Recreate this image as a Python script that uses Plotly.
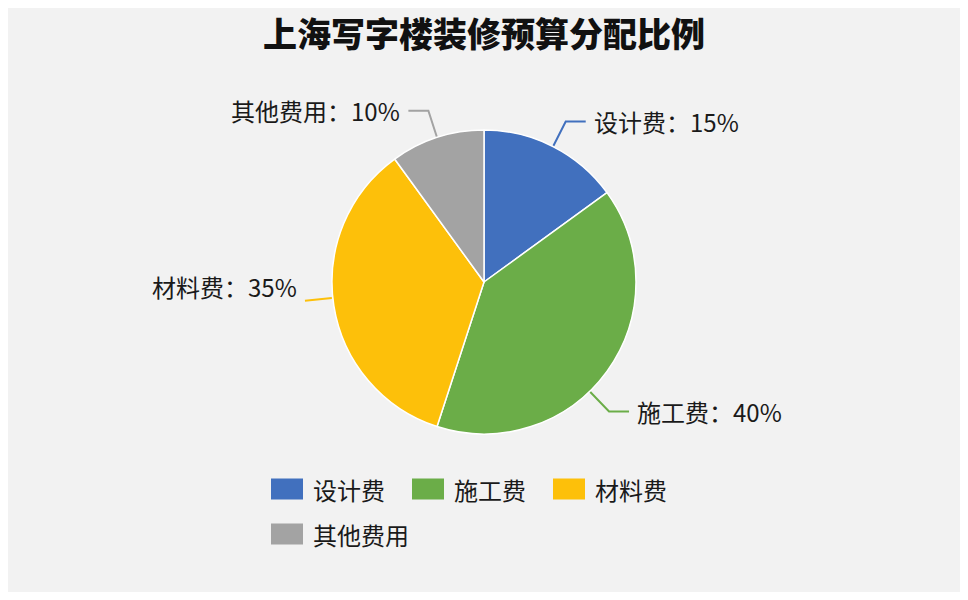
import math
import plotly.graph_objects as go

# 数据
categories = ["设计费", "施工费", "材料费", "其他费用"]
shares = [15, 40, 35, 10]
colors = ["#4170BE", "#6BAD48", "#FDC00A", "#A3A3A3"]
chart_title = "上海写字楼装修预算分配比例"

# 页面有 8px 的 body 边距，图本身略小一点
OFF = 8
W, H = 952, 584
cx, cy, r = 484, 282, 152
font = "Noto Sans CJK SC, Microsoft YaHei, sans-serif"

# 标签微调：引导线角度偏移(度)、文字上下偏移(px)
angle_tweak = {"施工费": 10, "材料费": 3}
text_dy = {"材料费": -14}


def to_paper(x, y):
    # 屏幕像素 -> paper 坐标
    return (x - OFF) / W, 1 - (y - OFF) / H


dx0, dy0 = to_paper(cx - r, cy + r)
dx1, dy1 = to_paper(cx + r, cy - r)

fig = go.Figure(go.Pie(
    labels=categories,
    values=shares,
    sort=False,
    direction="clockwise",
    rotation=0,
    marker=dict(colors=colors, line=dict(color="white", width=1.5)),
    textinfo="none",
    hoverinfo="label+percent",
    showlegend=False,
    domain=dict(x=[dx0, dx1], y=[dy0, dy1]),
))

shapes, annotations = [], []

# 引导线 + 数据标签
total = sum(shares)
acc = 0
for name, v, c in zip(categories, shares, colors):
    mid = (acc + v / 2) / total * 2 * math.pi + math.radians(angle_tweak.get(name, 0))
    acc += v
    dx, dy = math.sin(mid), -math.cos(mid)
    p1 = to_paper(cx + (r + 1) * dx, cy + (r + 1) * dy)
    x2, y2 = cx + (r + 28) * dx, cy + (r + 28) * dy
    side = 1 if dx > 0 else -1
    x3 = x2 + side * (20 if abs(dy) > 0.3 else 0)
    p2 = to_paper(x2, y2)
    p3 = to_paper(x3, y2)
    shapes.append(dict(
        type="path", xref="paper", yref="paper",
        path=f"M {p1[0]},{p1[1]} L {p2[0]},{p2[1]} L {p3[0]},{p3[1]}",
        line=dict(color=c, width=2),
    ))
    tx, ty = to_paper(x3 + side * 6, y2 + text_dy.get(name, 0))
    annotations.append(dict(
        x=tx, y=ty, xref="paper", yref="paper",
        text=f"{name}：{v}%", showarrow=False,
        xanchor="left" if side > 0 else "right", yanchor="middle",
        font=dict(size=24, color="#1a1a1a", family=font),
    ))

# 图例（手动绘制）
for i, (name, c) in enumerate(zip(categories, colors)):
    row, col = divmod(i, 3)
    bx = 271 + col * 141
    by = 489 + row * 45
    x0, y0 = to_paper(bx, by - 10.5)
    x1, y1 = to_paper(bx + 32, by + 10.5)
    shapes.append(dict(type="rect", xref="paper", yref="paper",
                       x0=x0, x1=x1, y0=y1, y1=y0,
                       fillcolor=c, line=dict(width=0)))
    tx, ty = to_paper(bx + 40, by)
    annotations.append(dict(
        x=tx, y=ty, xref="paper", yref="paper",
        text=name, showarrow=False, xanchor="left", yanchor="middle",
        font=dict(size=24, color="#1a1a1a", family=font),
    ))

fig.update_layout(
    width=W, height=H,
    margin=dict(l=0, r=0, t=0, b=0),
    paper_bgcolor="#F2F2F2",
    plot_bgcolor="#F2F2F2",
    title=dict(
        text=chart_title, x=0.5, xanchor="center",
        y=1 - (35 - OFF) / H, yanchor="middle", yref="container",
        font=dict(size=34, color="#111111", family=font, weight=900),
    ),
    shapes=shapes,
    annotations=annotations,
)

fig.write_html("out.html")
